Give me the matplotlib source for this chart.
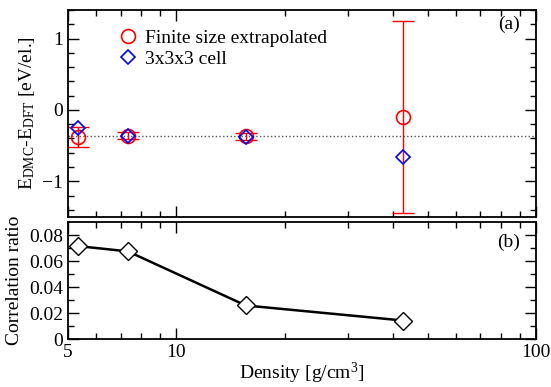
import matplotlib
matplotlib.use('Agg')
import matplotlib.pyplot as plt
import numpy as np

plt.rcParams['font.family'] = ['Liberation Serif', 'DejaVu Serif']
plt.rcParams['mathtext.fontset'] = 'custom'
plt.rcParams['mathtext.rm'] = 'Liberation Serif'
plt.rcParams['mathtext.it'] = 'Liberation Serif:italic'

# data
density = [5.33, 7.34, 15.6, 42.8]
e_extrap = [-0.38, -0.36, -0.37, -0.10]
e_extrap_err = [0.135, 0.047, 0.046, 1.34]
e_333 = [-0.25, -0.37, -0.386, -0.66]
dft_line = -0.36
corr_ratio = [0.0715, 0.0674, 0.0258, 0.0142]

x_ticks = [5, 10, 100]
x_ticklabels = ['5', '10', '100']
x_minor = [6, 7, 8, 9, 20, 30, 40, 50, 60, 70, 80, 90]


def style_axis(ax):
    ax.set_xscale('log')
    ax.set_xlim(5, 100)
    ax.set_xticks(x_ticks)
    ax.set_xticks(x_minor, minor=True)
    ax.tick_params(which='both', direction='in', top=True, right=True,
                   labelsize=14, width=1.0)
    ax.tick_params(which='major', length=8)
    ax.tick_params(which='minor', length=4)
    for s in ax.spines.values():
        s.set_linewidth(1.3)


fig = plt.figure(figsize=(5.51, 3.87), dpi=100)
ax1 = fig.add_axes([0.1234, 0.4393, 0.8494, 0.5349])
ax2 = fig.add_axes([0.1234, 0.124, 0.8494, 0.3023])

# (a)
style_axis(ax1)
ax1.axhline(dft_line, color='#555555', linestyle=':', linewidth=1.0)
ax1.errorbar(density, e_extrap, yerr=e_extrap_err, fmt='none',
             ecolor='red', elinewidth=1.0, capsize=8, capthick=1.0)
ax1.plot(density, e_extrap, 'o', mfc='none', mec='red', ms=10, mew=1.2,
         label='Finite size extrapolated')
ax1.plot(density, e_333, 'D', mfc='none', mec='blue', ms=7, mew=1.2,
         label='3x3x3 cell')
ax1.set_ylim(-1.5, 1.4)
ax1.set_yticks([-1, 0, 1])
ax1.set_yticks(np.arange(-1.4, 1.41, 0.2), minor=True)
ax1.set_xticklabels([])
ax1.set_ylabel(r'E$_{\rm DMC}$-E$_{\rm DFT}$ [eV/el.]', fontsize=14)
ax1.text(0.965, 0.93, '(a)', transform=ax1.transAxes, fontsize=14,
         ha='right', va='center')
ax1.legend(loc='upper left', bbox_to_anchor=(0.07, 0.99), frameon=False,
           fontsize=14, handletextpad=0.4, labelspacing=0.15,
           handlelength=1.0)

# (b)
style_axis(ax2)
ax2.plot(density, corr_ratio, '-D', color='black', lw=1.8, mfc='white',
         mec='black', ms=9, mew=1.0)
ax2.set_ylim(0, 0.09)
ax2.set_yticks([0, 0.02, 0.04, 0.06, 0.08])
ax2.set_yticklabels(['0', '0.02', '0.04', '0.06', '0.08'])
ax2.set_yticks(np.arange(0.01, 0.09, 0.02), minor=True)
ax2.set_xticklabels(x_ticklabels)
ax2.set_xlabel(r'Density [g/cm$^3$]', fontsize=14, labelpad=0)
ax2.set_ylabel('Correlation ratio', fontsize=14)
ax2.text(0.965, 0.83, '(b)', transform=ax2.transAxes, fontsize=14,
         ha='right', va='center')

fig.align_ylabels([ax1, ax2])
fig.savefig('out.png', dpi=100)
